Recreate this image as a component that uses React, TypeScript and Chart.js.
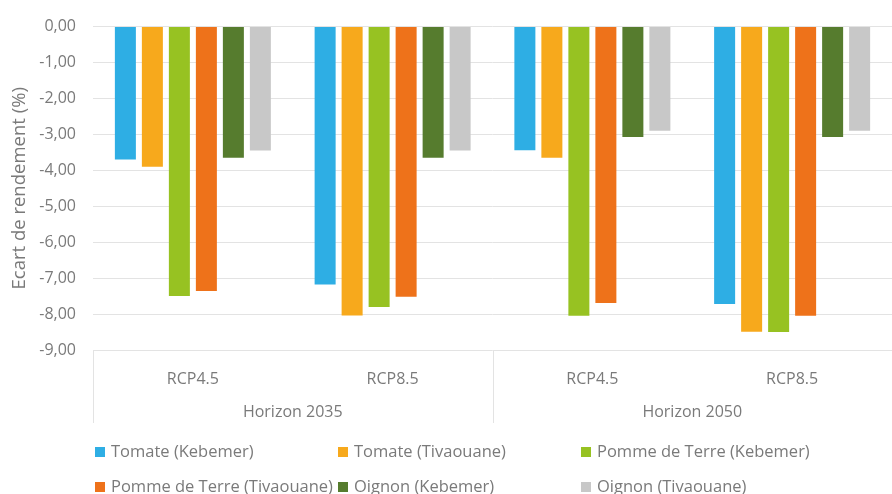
import React, { useEffect, useRef } from "react";
import { Chart, registerables } from "chart.js";

Chart.register(...registerables);

const scenarios = ["RCP4.5", "RCP8.5", "RCP4.5", "RCP8.5"];
const horizons = ["Horizon 2035", "Horizon 2050"];

const seriesNames = [
  "Tomate (Kebemer)",
  "Tomate (Tivaouane)",
  "Pomme de Terre (Kebemer)",
  "Pomme de Terre (Tivaouane)",
  "Oignon (Kebemer)",
  "Oignon (Tivaouane)",
];

const tomateKebemer = [-3.7, -7.18, -3.44, -7.72];
const tomateTivaouane = [-3.9, -8.04, -3.65, -8.49];
const pommeKebemer = [-7.5, -7.8, -8.05, -8.5];
const pommeTivaouane = [-7.36, -7.52, -7.69, -8.05];
const oignonKebemer = [-3.65, -3.65, -3.07, -3.07];
const oignonTivaouane = [-3.45, -3.45, -2.9, -2.9];

const seriesValues = [
  tomateKebemer,
  tomateTivaouane,
  pommeKebemer,
  pommeTivaouane,
  oignonKebemer,
  oignonTivaouane,
];

const seriesColors = ["#2EAEE4", "#F7A91C", "#97C222", "#EE721A", "#567C2E", "#C8C8C8"];

const yMin = -9;
const yMax = 0;
const yStep = 1;

const TEXT = "#7A7A7A";
const GRID = "#E3E3E3";
const FONT = "'Open Sans', sans-serif";

const decorPlugin = {
  id: "decor",
  afterDraw(chart: any) {
    const { ctx, chartArea, scales } = chart;
    const x = scales.x;
    const x2 = scales.x2;
    ctx.save();
    // group separators
    ctx.strokeStyle = GRID;
    ctx.lineWidth = 1;
    const bounds = [chartArea.left, (x.getPixelForValue(1) + x.getPixelForValue(2)) / 2, chartArea.right];
    bounds.forEach((bx: number) => {
      const px = Math.round(bx) + 0.5;
      ctx.beginPath();
      ctx.moveTo(px, chartArea.bottom);
      ctx.lineTo(px, x2.bottom - 12);
      ctx.stroke();
    });
    // legend
    const cols = [chartArea.left + 2, chartArea.left + 245, chartArea.left + 488];
    const rows = [452, 487];
    ctx.font = `16.5px ${FONT}`;
    ctx.textBaseline = "middle";
    ctx.textAlign = "left";
    chart.data.datasets.forEach((ds: any, i: number) => {
      const cx = cols[i % 3];
      const cy = rows[Math.floor(i / 3)];
      ctx.fillStyle = ds.backgroundColor;
      ctx.fillRect(cx, cy - 5, 10, 10);
      ctx.fillStyle = TEXT;
      ctx.fillText(ds.label, cx + 16, cy);
    });
    ctx.restore();
  },
};

export default function App() {
  const ref = useRef<HTMLCanvasElement | null>(null);

  useEffect(() => {
    if (!ref.current) return;
    Chart.defaults.font.family = FONT;
    const chart = new Chart(ref.current, {
      type: "bar",
      data: {
        labels: scenarios,
        datasets: seriesNames.map((name, i) => ({
          label: name,
          data: seriesValues[i],
          backgroundColor: seriesColors[i],
          borderWidth: 0,
          categoryPercentage: 0.811,
          barPercentage: 0.778,
        })),
      },
      options: {
        animation: false,
        responsive: false,
        devicePixelRatio: 1,
        layout: { padding: { top: 20, right: 0, left: 0, bottom: 59 } },
        plugins: {
          legend: { display: false },
          tooltip: { enabled: false },
        },
        scales: {
          x: {
            position: "bottom",
            weight: 0,
            grid: { display: false, drawTicks: false },
            border: { display: false },
            ticks: { color: TEXT, font: { size: 16 }, padding: 20, autoSkip: false, maxRotation: 0 },
            afterFit: (s: any) => {
              s.height = 45;
            },
          },
          x2: {
            type: "category",
            position: "bottom",
            weight: 1,
            labels: horizons,
            offset: true,
            grid: { display: false, drawTicks: false },
            border: { display: false },
            ticks: { color: TEXT, font: { size: 16 }, padding: 8, autoSkip: false, maxRotation: 0 },
            afterFit: (s: any) => {
              s.height = 40;
            },
          },
          y: {
            min: yMin,
            max: yMax,
            ticks: {
              stepSize: yStep,
              color: TEXT,
              font: { size: 16 },
              padding: 17,
              callback: (v: any) => Number(v).toFixed(2).replace(".", ","),
            },
            grid: { color: GRID, drawTicks: false, lineWidth: 1 },
            border: { display: false },
            title: {
              display: true,
              text: "Ecart de rendement (%)",
              color: TEXT,
              font: { size: 18.5 },
              padding: { top: 9, bottom: 0 },
            },
            afterFit: (s: any) => {
              s.width = 93;
            },
          },
        },
      },
      plugins: [decorPlugin],
    });
    return () => chart.destroy();
  }, []);

  return (
    <div style={{ position: "absolute", left: 0, top: 0, width: 892, height: 494, background: "#fff" }}>
      <canvas ref={ref} width={892} height={494} />
    </div>
  );
}
